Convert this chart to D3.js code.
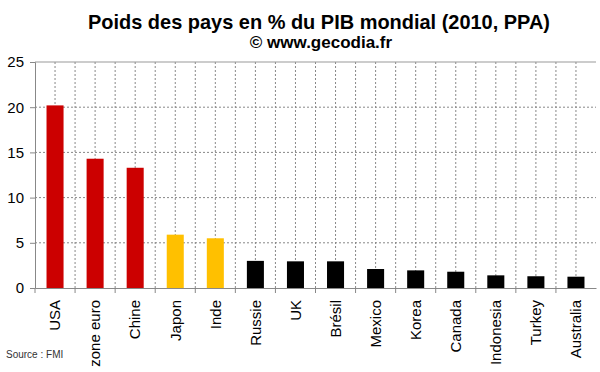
<!DOCTYPE html>
<html><head><meta charset="utf-8">
<script src="https://cdn.jsdelivr.net/npm/d3@7"></script>
<style>body{margin:0;background:#fff}svg{display:block}text{font-family:"Liberation Sans",Arial,sans-serif}</style>
</head><body>
<script>
const categories = ["USA","zone euro","Chine","Japon","Inde","Russie","UK","Brésil","Mexico","Korea","Canada","Indonesia","Turkey","Australia"];
const values = [20.2,14.3,13.3,5.9,5.5,3.0,2.95,2.95,2.1,1.95,1.8,1.4,1.3,1.25];
const groups = ["r","r","r","y","y","k","k","k","k","k","k","k","k","k"];
const groupColors = {r:"#cc0000", y:"#ffc000", k:"#000000"};
const yTicks = [0,5,10,15,20,25];
const title = "Poids des pays en % du PIB mondial (2010, PPA)";
const subtitle = "© www.gecodia.fr";
const source = "Source : FMI";

const W=600,H=372;
const m={l:35,r:4,t:62,b:84};
const svg=d3.select("body").append("svg").attr("width",W).attr("height",H);
const x=d3.scaleBand().domain(categories).range([m.l,W-m.r]).paddingInner(0.575).paddingOuter(0.2875);
const xb=d3.scaleBand().domain(categories).range([m.l,W-m.r]);
const y=d3.scaleLinear().domain([0,25]).range([H-m.b,m.t]);

// grid
const g=svg.append("g");
categories.forEach(c=>{
  const cx=xb(c)+xb.bandwidth()/2;
  g.append("line").attr("x1",cx).attr("x2",cx).attr("y1",y(25)).attr("y2",y(0)).attr("stroke","#888").attr("stroke-dasharray","2,2");
});
categories.slice(1).forEach(c=>{
  const bx=xb(c);
  g.append("line").attr("x1",bx).attr("x2",bx).attr("y1",y(25)).attr("y2",y(0)).attr("stroke","#888").attr("stroke-dasharray","2,2");
});
yTicks.filter(v=>v>0&&v<25).forEach(v=>{
  g.append("line").attr("x1",m.l).attr("x2",W-m.r).attr("y1",y(v)).attr("y2",y(v)).attr("stroke","#888").attr("stroke-dasharray","2,2");
});
g.append("line").attr("x1",m.l).attr("x2",W-m.r).attr("y1",y(25)).attr("y2",y(25)).attr("stroke","#999");

// bars
svg.append("g").selectAll("rect").data(categories).join("rect")
  .attr("x",c=>x(c)).attr("width",x.bandwidth())
  .attr("y",(c,i)=>y(values[i])).attr("height",(c,i)=>y(0)-y(values[i]))
  .attr("fill",(c,i)=>groupColors[groups[i]]);

// y axis
const ya=svg.append("g").attr("transform",`translate(${m.l},0)`)
  .call(d3.axisLeft(y).tickValues(yTicks).tickSize(5).tickPadding(6));
ya.select(".domain").attr("stroke","#888");
ya.selectAll(".tick line").attr("stroke","#888");
ya.selectAll(".tick text").attr("font-size",15).attr("fill","#000").attr("font-family","Liberation Sans, Arial, sans-serif");

// x axis
const xa=svg.append("g").attr("transform",`translate(0,${y(0)})`)
  .call(d3.axisBottom(xb).tickSize(0).tickSizeOuter(0));
xa.select(".domain").attr("stroke","#888");
xa.selectAll(".tick text").attr("font-size",15).attr("fill","#000")
  .attr("font-family","Liberation Sans, Arial, sans-serif")
  .attr("transform","rotate(-90)").attr("text-anchor","end")
  .attr("x",-12).attr("y",0).attr("dy","0.35em");
// boundary ticks
svg.append("g").selectAll("line").data(categories).join("line")
  .attr("x1",c=>xb(c)).attr("x2",c=>xb(c)).attr("y1",y(0)).attr("y2",y(0)+5).attr("stroke","#888");

// titles
svg.append("text").attr("x",319).attr("y",29).attr("text-anchor","middle")
  .attr("font-size",21).attr("font-weight","bold")
  .attr("textLength",462).attr("lengthAdjust","spacingAndGlyphs").text(title);
svg.append("text").attr("x",321).attr("y",48).attr("text-anchor","middle")
  .attr("font-size",17).attr("font-weight","bold").text(subtitle);
svg.append("text").attr("x",6).attr("y",358).attr("font-size",10).attr("fill","#333").text(source);
</script>
</body></html>
